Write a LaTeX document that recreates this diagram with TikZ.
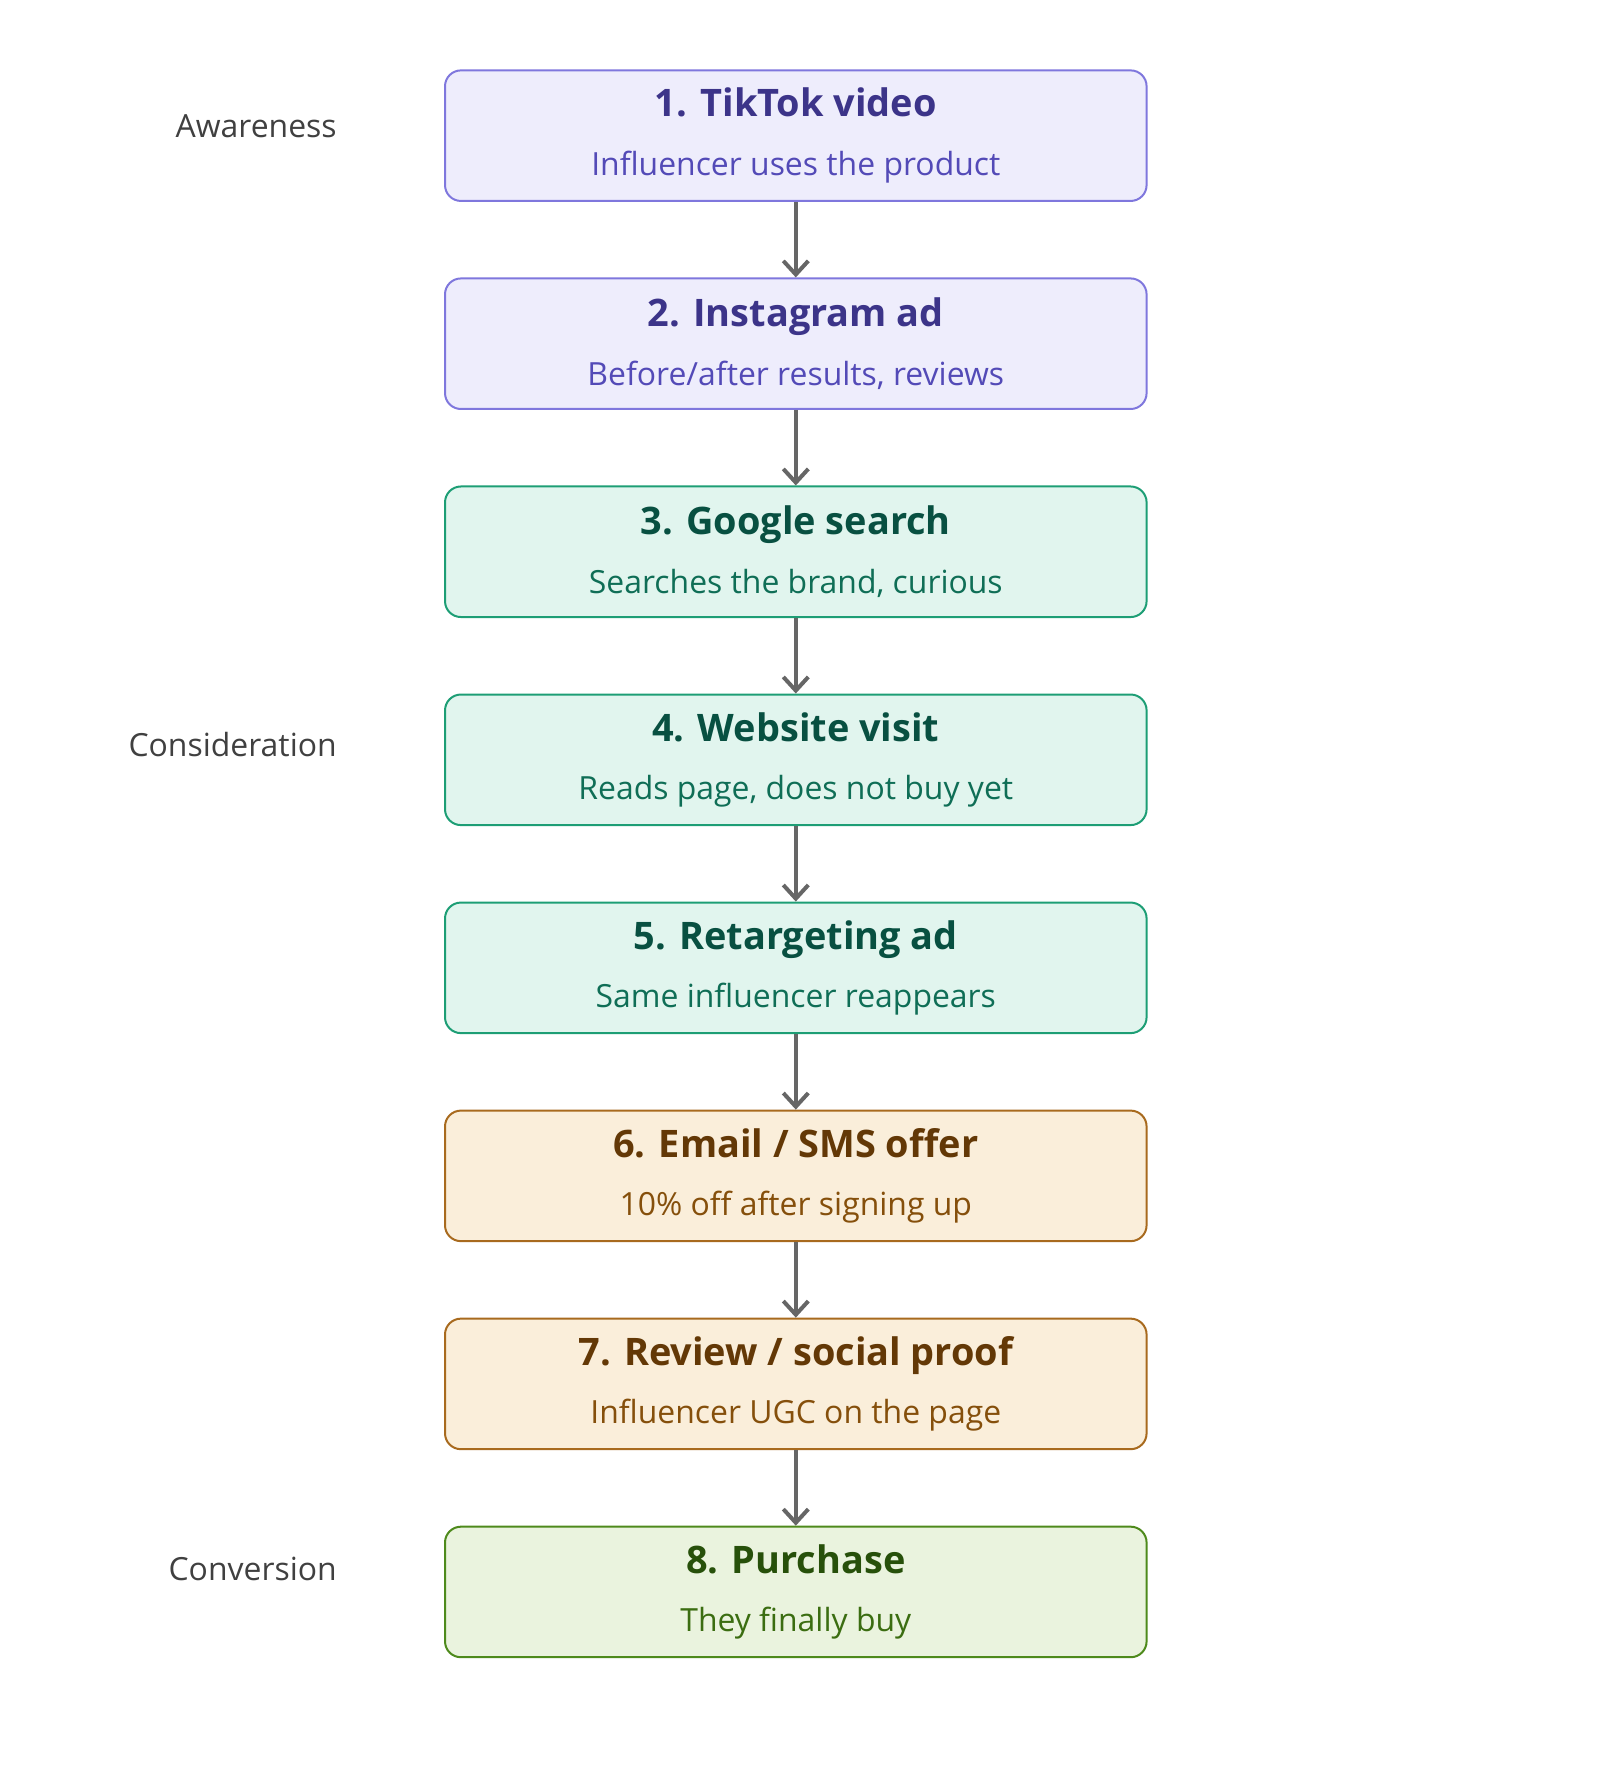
\documentclass[tikz,border=0pt]{standalone}
\usepackage{fontspec}
\setmainfont{Open Sans}
\usetikzlibrary{positioning}
\usetikzlibrary{arrows.meta}

\definecolor{purpfill}{HTML}{EEEDFC}
\definecolor{purpline}{HTML}{7F77DD}
\definecolor{purptitle}{HTML}{3C3489}
\definecolor{purpsub}{HTML}{534AB7}
\definecolor{tealfill}{HTML}{E1F5EE}
\definecolor{tealline}{HTML}{1D9E75}
\definecolor{tealtitle}{HTML}{085041}
\definecolor{tealsub}{HTML}{0F6E56}
\definecolor{orngfill}{HTML}{FAEEDA}
\definecolor{orngline}{HTML}{A86A1E}
\definecolor{orngtitle}{HTML}{633806}
\definecolor{orngsub}{HTML}{854F0B}
\definecolor{grnfill}{HTML}{EAF3DE}
\definecolor{grnline}{HTML}{4E8A1C}
\definecolor{grntitle}{HTML}{27500A}
\definecolor{grnsub}{HTML}{3B6D11}

\newcommand{\stepbox}[3]{{\fontsize{9.5}{11}\selectfont\bfseries\color{#1title}#2}\\[0.5ex]{\fontsize{8}{10}\selectfont\color{#1sub}#3}}

\begin{document}
\begin{tikzpicture}[
  node distance=0.665cm,
  stepnode/.style={draw, rounded corners=0.14cm, line width=0.5pt, minimum width=6.18cm,
    minimum height=1.15cm, align=center, inner sep=0pt, fill=#1fill, draw=#1line},
  flow/.style={draw=black!60, line width=1pt, -{Straight Barb[length=1.2mm,width=2.2mm]}},
  stage/.style={anchor=east, font=\fontsize{8}{10}\selectfont, text=black!75}
]
\useasboundingbox (0,0) rectangle (14.1,-15.75);

\node[stepnode=purp] (tiktok) at (7.01,-1.195) {\stepbox{purp}{1. TikTok video}{Influencer uses the product}};
\node[stepnode=purp, below=of tiktok] (insta) {\stepbox{purp}{2. Instagram ad}{Before/after results, reviews}};
\node[stepnode=teal, below=of insta] (google) {\stepbox{teal}{3. Google search}{Searches the brand, curious}};
\node[stepnode=teal, below=of google] (website) {\stepbox{teal}{4. Website visit}{Reads page, does not buy yet}};
\node[stepnode=teal, below=of website] (retarget) {\stepbox{teal}{5. Retargeting ad}{Same influencer reappears}};
\node[stepnode=orng, below=of retarget] (email) {\stepbox{orng}{6. Email / SMS offer}{10\% off after signing up}};
\node[stepnode=orng, below=of email] (review) {\stepbox{orng}{7. Review / social proof}{Influencer UGC on the page}};
\node[stepnode=grn, below=of review] (purchase) {\stepbox{grn}{8. Purchase}{They finally buy}};

% stage labels
\node[stage] (aware) at (3.09,-1.11) {Awareness};
\node[stage] (consid) at (3.09,-6.56) {Consideration};
\node[stage] (convert) at (3.09,-13.82) {Conversion};

\foreach \a/\b in {tiktok/insta, insta/google, google/website, website/retarget,
  retarget/email, email/review, review/purchase}
  \draw[flow] (\a) -- (\b);
\end{tikzpicture}
\end{document}
